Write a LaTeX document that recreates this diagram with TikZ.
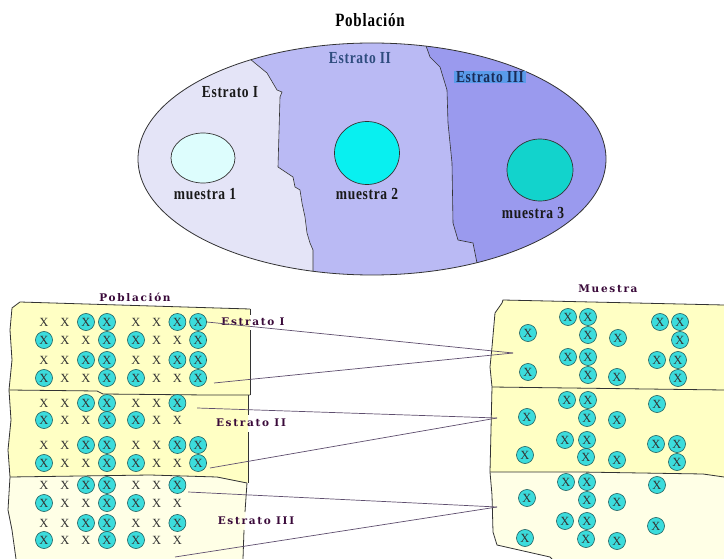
\documentclass[tikz,border=0pt]{standalone}
\usepackage{fontspec}
\setmainfont{Liberation Serif}
\newfontfamily\capfont[LetterSpace=5]{Liberation Serif}
\newfontfamily\tagfont[LetterSpace=16]{DejaVu Serif}
\usetikzlibrary{shapes.geometric,calc}
\definecolor{strA}{HTML}{E4E4F7}
\definecolor{strB}{HTML}{BABAF4}
\definecolor{strC}{HTML}{9A9AEE}
\definecolor{smpA}{HTML}{DDFDFD}
\definecolor{smpB}{HTML}{08F0F0}
\definecolor{smpC}{HTML}{12D3CC}
\definecolor{hiblue}{HTML}{5A9BEA}
\definecolor{navy}{HTML}{2E4C7E}
\definecolor{inkdark}{HTML}{1A2A55}
\definecolor{sheet}{HTML}{FFFFC4}
\definecolor{sheetpale}{HTML}{FFFFE6}
\definecolor{plum}{HTML}{3A0A3A}
\definecolor{tealfill}{HTML}{3CDCDC}
\definecolor{tealedge}{HTML}{1E5E5E}
\definecolor{wire}{HTML}{5E4E6E}
\definecolor{edgegrey}{HTML}{333333}

% one row of the population grid: prefix, y, list of cell styles
\newcommand\poprow[3]{%
  \foreach \t [count=\c] in {#3}{%
    \pgfmathsetmacro\colx{\c<5 ? 44+21*(\c-1) : 136+20.7*(\c-5)}%
    \node[\t] (#1-\c) at (\colx,#2) {X};}}
% tall lettering of the ellipse labels
\newcommand\tall[1]{\scalebox{1}[1.25]{#1}}

\begin{document}
\begin{tikzpicture}[x=1pt,y=-1pt,
  px/.style={inner sep=0pt, font=\fontsize{12.5}{12}\selectfont, text=black!80},
  ox/.style={circle, draw=tealedge, line width=0.6pt, fill=tealfill,
    minimum size=17pt, inner sep=0pt, font=\fontsize{12.5}{12}\selectfont, text=black!80},
  toplab/.style={font=\capfont\bfseries\fontsize{13.5}{14}\selectfont, text=black!90, inner sep=0pt},
  tag/.style={font=\tagfont\bfseries\fontsize{10.5}{11}\selectfont, text=plum, inner sep=0pt},
  sample/.style={ellipse, draw=edgegrey, line width=0.7pt, inner sep=0pt},
  divider/.style={draw=edgegrey, line width=0.6pt},
  sheetedge/.style={draw=edgegrey, line width=0.8pt},
  wire/.style={draw=wire, line width=0.7pt}]

\useasboundingbox (0,0) rectangle (724,559);
\fill[white] (0,0) rectangle (724,559);

% ---------- population ellipse with three strata ----------
\node[font=\capfont\bfseries\fontsize{15}{15}\selectfont, inner sep=0pt] (title) at (370,20) {\tall{Población}};

\begin{scope}
  \clip (372,159) ellipse [x radius=234pt, y radius=116pt];
  \fill[strB] (100,0) rectangle (700,300);
  \fill[strA] (100,0) -- (248,50) -- (250,59) -- (267,73) -- (277,90) -- (282,92) -- (280,97)
    -- (278,167) -- (293,177) -- (295,187) -- (300,190) -- (302,203) -- (305,217) -- (307,233)
    -- (310,243) -- (313,250) -- (313,300) -- (100,300) -- cycle;
  \fill[strC] (700,0) -- (423,35) -- (425,43) -- (430,57) -- (440,67) -- (447,90) -- (448,123)
    -- (452,163) -- (453,223) -- (458,240) -- (473,243) -- (477,263) -- (478,300) -- (700,300) -- cycle;
  \draw[divider] (248,50) -- (250,59) -- (267,73) -- (277,90) -- (282,92) -- (280,97)
    -- (278,167) -- (293,177) -- (295,187) -- (300,190) -- (302,203) -- (305,217) -- (307,233)
    -- (310,243) -- (313,250) -- (313,300);
  \draw[divider] (423,35) -- (425,43) -- (430,57) -- (440,67) -- (447,90) -- (448,123)
    -- (452,163) -- (453,223) -- (458,240) -- (473,243) -- (477,263) -- (478,300);
\end{scope}
\draw[edgegrey, line width=0.8pt] (372,159) ellipse [x radius=234pt, y radius=116pt];

\node[toplab] (estA) at (230,92) {\tall{Estrato I}};
\node[toplab, text=navy] (estB) at (360,58) {\tall{Estrato II}};
\node[toplab, text=inkdark, fill=hiblue, inner xsep=2pt, inner ysep=0.5pt] (estC) at (490,77) {\tall{Estrato III}};

\node[sample, fill=smpA, minimum width=64pt, minimum height=50pt] (m1) at (203,158) {};
\node[sample, fill=smpB, minimum width=65pt, minimum height=63pt] (m2) at (367,153) {};
\node[sample, fill=smpC, minimum width=66pt, minimum height=62pt] (m3) at (540,170) {};
\node[toplab] (m1t) at (205,194) {\tall{muestra 1}};
\node[toplab] (m2t) at (367,194) {\tall{muestra 2}};
\node[toplab] (m3t) at (533,213) {\tall{muestra 3}};

% ---------- population sheet (left) ----------
\fill[sheet] (20,302) -- (250,309) -- (250,395) -- (207,395) -- (103,394) -- (97,391) -- (9,390)
  -- (12,360) -- (10,330) -- (12,308) -- cycle;
\fill[sheet] (9,390) -- (97,391) -- (103,394) -- (207,395) -- (248,395) -- (248,483) -- (217,477)
  -- (150,475) -- (10,477) -- (8,450) -- (11,420) -- cycle;
\fill[sheetpale] (10,477) -- (150,475) -- (217,477) -- (247,483) -- (243,559) -- (16,559)
  -- (12,530) -- (8,510) -- cycle;
\draw[sheetedge] (250,309) -- (20,302) -- (12,308) -- (10,330) -- (12,360) -- (9,390) -- (11,420)
  -- (8,450) -- (10,477) -- (8,510) -- (12,530) -- (16,559);
\draw[sheetedge] (9,390) -- (97,391) -- (103,394) -- (207,395) -- (250,395);
\draw[sheetedge] (10,477) -- (150,475) -- (217,477) -- (247,483);
\draw[sheetedge] (250,309) -- (250,315);
\draw[sheetedge] (250,330) -- (250,395);
\draw[sheetedge] (248,395) -- (248,415);
\draw[sheetedge] (248,432) -- (248,483);
\draw[sheetedge] (247,483) -- (245,512);
\draw[sheetedge] (244,530) -- (243,559);

% ---------- sample sheet (right) ----------
\fill[sheet] (503,300) -- (724,305) -- (724,390) -- (492,387) -- (490,367) -- (492,347)
  -- (495,313) -- (502,303) -- cycle;
\fill[sheet] (492,387) -- (724,390) -- (724,477) -- (703,474) -- (580,472) -- (490,472)
  -- (491,430) -- cycle;
\fill[sheetpale] (490,472) -- (580,472) -- (703,474) -- (724,477) -- (724,559) -- (552,559)
  -- (550,557) -- (497,545) -- (493,532) -- (492,495) -- cycle;
\draw[sheetedge] (724,305) -- (503,300) -- (502,303) -- (495,313) -- (492,347) -- (490,367)
  -- (492,387) -- (491,430) -- (490,472) -- (492,495) -- (493,532) -- (497,545) -- (550,557) -- (552,559);
\draw[sheetedge] (492,387) -- (724,390);
\draw[sheetedge] (490,472) -- (580,472) -- (703,474) -- (724,477);

% ---------- grid of units, stratum by stratum ----------
\poprow{LAa}{322}{px,px,ox,ox,px,px,ox,ox}
\poprow{LAb}{340}{ox,px,px,ox,ox,px,px,ox}
\poprow{LAc}{360}{px,px,ox,ox,px,px,ox,ox}
\poprow{LAd}{378}{ox,px,px,ox,ox,px,px,ox}
\poprow{LBa}{403}{px,px,ox,ox,px,px,ox}
\poprow{LBb}{420}{ox,px,px,ox,ox,px,px}
\poprow{LBc}{445}{px,px,ox,ox,px,px,ox,ox}
\poprow{LBd}{463}{ox,px,px,ox,ox,px,px,ox}
\poprow{LCa}{485}{px,px,ox,ox,px,px,ox}
\poprow{LCb}{503}{ox,px,px,ox,ox,px,px}
\poprow{LCc}{523}{px,px,ox,ox,px,px,ox}
\poprow{LCd}{540}{ox,px,px,ox,ox,px,px}

% ---------- selected units ----------
\foreach \p [count=\i] in {(528,333),(568,317),(588,317),(588,335),(618,338),(660,322),(680,322),(680,340),
    (528,372),(568,357),(588,357),(588,375),(617,377),(657,360),(678,360),(678,378)}
  \node[ox] (RA-\i) at \p {X};
\foreach \p [count=\i] in {(567,400),(588,400),(527,417),(587,418),(617,420),(657,404),(565,440),
    (587,440),(525,455),(586,457),(617,460),(656,444),(677,444),(677,462)}
  \node[ox] (RB-\i) at \p {X};
\foreach \p [count=\i] in {(566,482),(587,482),(527,498),(587,500),(617,502),(657,485),(565,521),
    (587,521),(525,538),(586,539),(617,541),(656,526)}
  \node[ox] (RC-\i) at \p {X};

% ---------- labels of the two sheets ----------
\node[tag] (popb) at (135,297) {Población};
\node[tag] (mues) at (608,289) {Muestra};
\node[tag] (tagA) at (253,322) {Estrato I};
\node[tag] (tagB) at (251,423) {Estrato II};
\node[tag] (tagC) at (256,521) {Estrato III};

% ---------- connectors from each stratum to its sample ----------
\coordinate (inA) at (513,353);
\coordinate (inB) at (497,418);
\coordinate (inC) at (497,507);
\coordinate (outAb) at (214,383);
\coordinate (outBa) at ($(LBa-7.east)+(11,5)$);
\coordinate (outBb) at (210,468);
\coordinate (outCa) at ($(LCa-7.east)+(2,7)$);
\coordinate (outCb) at (175,557);
\draw[wire] (LAa-8.east) -- (inA);
\draw[wire] (outAb) -- (inA);
\draw[wire] (outBa) -- (inB);
\draw[wire] (outBb) -- (inB);
\draw[wire] (outCa) -- (inC);
\draw[wire] (outCb) -- (inC);
\end{tikzpicture}
\end{document}
